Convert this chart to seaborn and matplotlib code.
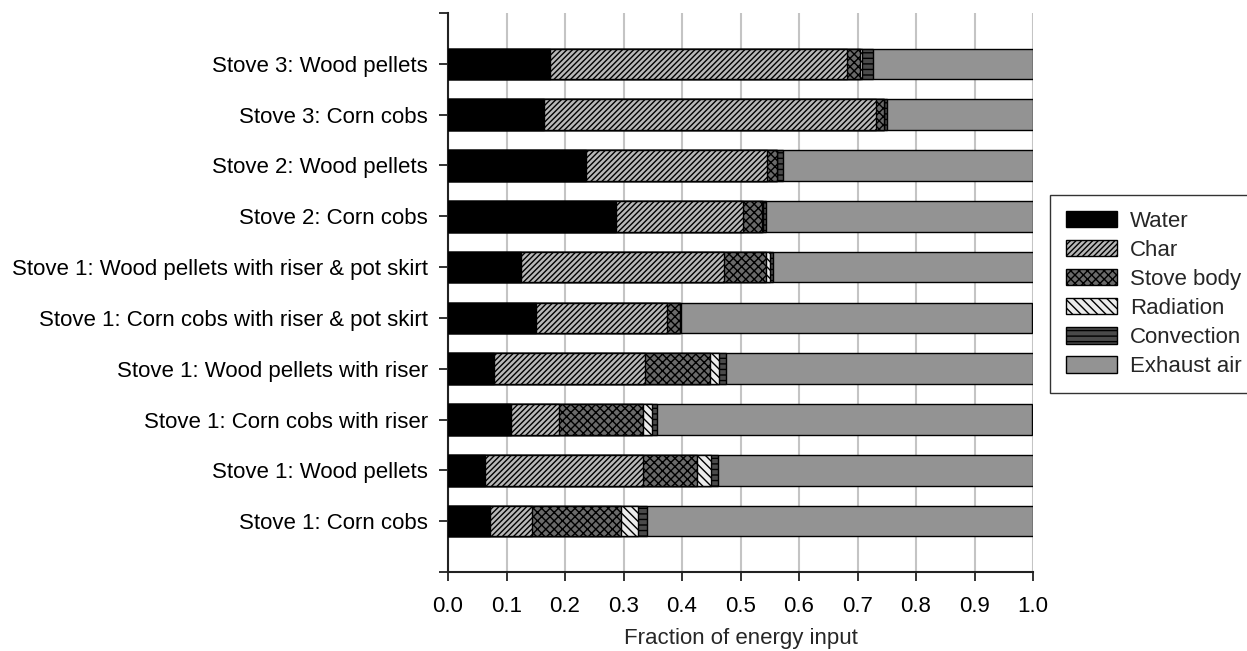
import numpy as np
import pandas as pd
import matplotlib
matplotlib.use("Agg")
import matplotlib.pyplot as plt
import matplotlib.patches as mpatches
import seaborn as sns

# Energy balance (top bar first)
stoves = ['Stove 3: Wood pellets',
          'Stove 3: Corn cobs',
          'Stove 2: Wood pellets',
          'Stove 2: Corn cobs',
          'Stove 1: Wood pellets with riser & pot skirt',
          'Stove 1: Corn cobs with riser & pot skirt',
          'Stove 1: Wood pellets with riser',
          'Stove 1: Corn cobs with riser',
          'Stove 1: Wood pellets',
          'Stove 1: Corn cobs']
water = [0.174, 0.164, 0.236, 0.287, 0.125, 0.150, 0.079, 0.107, 0.063, 0.072]
char = [0.508, 0.567, 0.309, 0.218, 0.346, 0.225, 0.257, 0.083, 0.271, 0.071]
stove_body = [0.023, 0.014, 0.017, 0.032, 0.072, 0.022, 0.112, 0.143, 0.091, 0.153]
radiation = [0.003, 0.001, 0.001, 0.001, 0.007, 0.000, 0.016, 0.015, 0.024, 0.029]
convection = [0.019, 0.004, 0.009, 0.006, 0.006, 0.001, 0.011, 0.010, 0.013, 0.015]
exhaust_air = [0.273, 0.250, 0.428, 0.456, 0.444, 0.600, 0.525, 0.640, 0.538, 0.660]

components = ['Water', 'Char', 'Stove body', 'Radiation', 'Convection', 'Exhaust air']
df = pd.DataFrame({'Water': water, 'Char': char, 'Stove body': stove_body,
                   'Radiation': radiation, 'Convection': convection,
                   'Exhaust air': exhaust_air}, index=stoves)
cum = df[components].cumsum(axis=1)

styles = {'Water': ('#000000', ''),
          'Char': ('#b8b8b8', '//////'),
          'Stove body': ('#6a6a6a', 'xxxx'),
          'Radiation': ('#ececec', '\\\\\\\\'),
          'Convection': ('#4a4a4a', '---'),
          'Exhaust air': ('#939393', '')}

sns.set_style("ticks")
plt.rcParams['font.family'] = ['Liberation Sans', 'DejaVu Sans']
plt.rcParams['hatch.linewidth'] = 1.0

fig = plt.figure(figsize=(12.47, 6.51), dpi=100)
ax = fig.add_axes([0.3593, 0.1214, 0.4691, 0.8586])

# stacked bars: draw cumulative totals from longest to shortest
for comp in components[::-1]:
    col, hatch = styles[comp]
    sns.barplot(x=cum[comp].values, y=stoves, orient='h', color=col,
                saturation=1, edgecolor='black', linewidth=1.0,
                hatch=hatch, width=0.6, ax=ax, zorder=3)

ax.set_xlim(0, 1.0)
ax.set_ylim(10, -1)
ax.set_xticks(np.arange(0, 1.01, 0.1))
ax.set_xticklabels([f'{v:.1f}' for v in np.arange(0, 1.01, 0.1)])
ax.set_yticks(range(-1, 11))
ax.set_yticklabels([''] + stoves + [''])
ax.xaxis.grid(True, color='#c4c4c4', linewidth=1.5, zorder=0)
ax.set_axisbelow(True)
for s in ['top', 'right']:
    ax.spines[s].set_visible(False)
for s in ['left', 'bottom']:
    ax.spines[s].set_linewidth(1.5)
    ax.spines[s].set_color('#222222')
ax.tick_params(axis='both', labelsize=16, width=1.3, length=6.5,
               colors='#222222', labelcolor='black')
ax.tick_params(axis='y', pad=8)
ax.tick_params(axis='x', pad=10.5)
ax.set_xlabel('Fraction of energy input', fontsize=16, labelpad=8)
ax.set_ylabel('')

handles = [mpatches.Patch(facecolor=styles[c][0], hatch=styles[c][1],
                          edgecolor='black', linewidth=1.0, label=c)
           for c in components]
leg = fig.legend(handles=handles, loc='upper left', bbox_to_anchor=(0.842, 0.700),
                 borderaxespad=0, fontsize=16, frameon=True, fancybox=False,
                 edgecolor='black', handlelength=2.3, handleheight=0.77,
                 labelspacing=0.36, borderpad=0.7, handletextpad=0.6)
leg.get_frame().set_linewidth(1.0)

fig.savefig('out.png', dpi=100)
